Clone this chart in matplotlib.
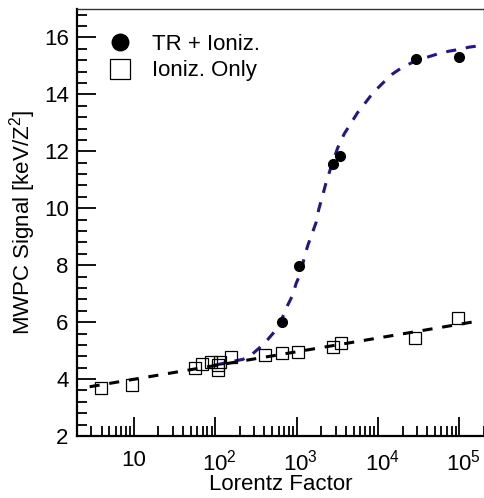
#!/usr/bin/env python3
# -*- coding: utf-8 -*-

import matplotlib
matplotlib.use('Agg')
import matplotlib.pyplot as plt
import matplotlib.transforms as mtransforms
import numpy as np
from matplotlib.ticker import FixedLocator, NullFormatter

plt.rcParams['font.family'] = ['Liberation Sans', 'DejaVu Sans']
plt.rcParams['mathtext.fontset'] = 'custom'
plt.rcParams['mathtext.rm'] = 'Liberation Sans'
plt.rcParams['mathtext.it'] = 'Liberation Sans:italic'

#===========================================================
# --- Data -------------------------------------------------
#===========================================================

# TR + ionization (filled circles)
tr_gamma = [662, 1059, 2767, 3406, 29170, 99100]
tr_signal = [6.01, 7.98, 11.54, 11.82, 15.24, 15.33]

# ionization only (open squares)
ion_gamma = [3.9, 9.6, 55.6, 69, 89, 113, 107, 108, 157, 413, 662, 1028,
             2767, 3508, 28400, 97200]
ion_signal = [3.69, 3.79, 4.38, 4.52, 4.61, 4.61, 4.32, 4.49, 4.76, 4.84,
              4.92, 4.96, 5.11, 5.27, 5.43, 6.15]

# fit curves
ion_fit_gamma = [2.86, 180000]
ion_fit_signal = [3.73, 6.05]

tr_fit_gamma = [100, 160, 217, 275, 359, 441, 532, 613, 707, 776, 893, 984,
                1133, 1243, 1364, 1545, 1730, 1862, 2084, 2295, 2643,
                3186, 3846, 4864, 5598, 6771, 7955, 9586, 11920, 15070,
                19100, 25340, 32040, 42500, 55200, 74800, 99100, 131000,
                191000]
tr_fit_signal = [4.49, 4.62, 4.69, 4.84, 5.13, 5.39, 5.66, 5.95, 6.31, 6.60,
                 6.95, 7.36, 7.76, 8.30, 8.68, 9.11, 9.50, 9.95, 10.45, 10.90,
                 11.45, 12.12, 12.62, 13.08, 13.36, 13.66, 13.92,
                 14.18, 14.45, 14.72, 14.92, 15.10, 15.22, 15.33, 15.43,
                 15.52, 15.58, 15.66, 15.72]

x_ticks = [10, 1e2, 1e3, 1e4, 1e5]
x_ticklabels = ['10', r'$\mathregular{10^{2}}$', r'$\mathregular{10^{3}}$',
                r'$\mathregular{10^{4}}$', r'$\mathregular{10^{5}}$']
y_ticks = [2, 4, 6, 8, 10, 12, 14, 16]

#===========================================================
# --- Plot --------------------------------------------------
#===========================================================

fig = plt.figure(figsize=(4.85, 4.98), dpi=100)
ax = fig.add_axes([77/485, 62/498, 407/485, 427/498])

navy = '#22178a'
ax.plot(tr_fit_gamma, tr_fit_signal, color=navy, lw=2.2,
        ls=(0, (3.3, 3.2)), zorder=2)
ax.plot(ion_fit_gamma, ion_fit_signal, color='k', lw=2.2,
        ls=(0, (3.3, 3.2)), zorder=3)

ax.plot(tr_gamma, tr_signal, 'o', color='k', ms=7, zorder=4,
        label='TR + Ioniz.')
ax.plot(ion_gamma, ion_signal, 's', mfc='none', mec='k', mew=0.9, ms=8.5,
        zorder=4, label='Ioniz. Only')

ax.set_xscale('log')
ax.set_xlim(2, 2e5)
ax.set_ylim(2, 17)

ax.xaxis.set_major_locator(FixedLocator(x_ticks))
ax.set_xticklabels(x_ticklabels)
ax.xaxis.set_minor_locator(FixedLocator(
    [m * 10**e for e in range(0, 6) for m in range(2, 10) if 2 <= m * 10**e <= 2e5]))
ax.xaxis.set_minor_formatter(NullFormatter())
ax.set_yticks(y_ticks)
ax.yaxis.set_minor_locator(FixedLocator(np.arange(2, 17.01, 0.4)))

ax.tick_params(which='both', direction='in', top=False, right=False,
               labelsize=16, width=1.3, color='k')
ax.tick_params(which='major', length=14)
ax.tick_params(which='minor', length=7)
ax.tick_params(axis='x', pad=10)
ax.tick_params(axis='y', pad=6)

# centre the "10" part of 10^n on the tick, exponent hangs to the right
shift = mtransforms.ScaledTranslation(4/100, 0, fig.dpi_scale_trans)
for lab in ax.get_xticklabels()[1:]:
    lab.set_transform(lab.get_transform() + shift)

for s in ['left', 'bottom']:
    ax.spines[s].set_linewidth(1.6)
for s in ['top', 'right']:
    ax.spines[s].set_linewidth(1.0)
    ax.spines[s].set_color('#333333')

ax.set_xlabel('Lorentz Factor', fontsize=16, labelpad=-1)
ax.set_ylabel(r'MWPC Signal [keV/Z$^{2}$]', fontsize=16, labelpad=4)

ax.legend(loc='upper left', bbox_to_anchor=(0.078, 0.942), frameon=False,
          fontsize=16, markerscale=1.7, handlelength=1.0, handletextpad=0.95,
          borderpad=0, borderaxespad=0, labelspacing=0.25)

fig.savefig('out.png', dpi=100)
